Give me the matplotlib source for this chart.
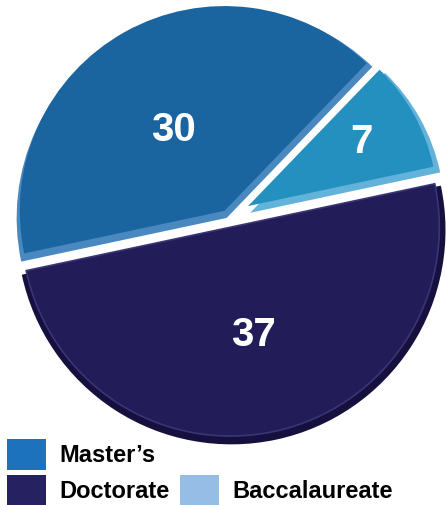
import matplotlib
matplotlib.use("Agg")
from matplotlib import pyplot as plt
from matplotlib.patches import Patch
import numpy as np

# data
labels = ["Doctorate", "Master\u2019s", "Baccalaureate"]
values = [37, 30, 7]
face_colors = ["#221c58", "#1a65a0", "#2390c0"]
rim_colors = ["#15103e", "#4a88c0", "#62b2da"]
legend_colors = ["#262160", "#1c72bd", "#95bde6"]

fig = plt.figure(figsize=(4.46, 5.05), dpi=100)
ax = fig.add_axes([0, 0, 1, 1])

explode = [0.03, 0.033, 0.11]
sizes = [1.02, 1.0, 0.925]
# how far each face sits up-left of its rim (3d bevel look)
face_shift = [(-0.004, 0.014), (-0.01, 0.034), (-0.01, 0.032)]

# bevel / rim layer underneath
rim, _ = ax.pie(values, colors=rim_colors, explode=explode, startangle=12,
                counterclock=False, radius=1.0)
# face layer
faces, _ = ax.pie(values, colors=face_colors, explode=explode, startangle=12,
                  counterclock=False, radius=0.975)
for w, s in zip(rim, sizes):
    w.set_radius(w.r * s)
for w, s, (dx, dy) in zip(faces, sizes, face_shift):
    w.set_radius(w.r * s)
    x0, y0 = w.center
    w.set_center((x0 + dx, y0 + dy))

# lighter bevel along the edges of the Doctorate slice
faces[0].set_edgecolor("#3a3577")
faces[0].set_linewidth(1.2)

# value labels
label_dist = [0.54, 0.52, 0.74]
label_turn = [0, 2, 3]  # small angular nudge, degrees
for w, v, d, t in zip(faces, values, label_dist, label_turn):
    mid = np.deg2rad((w.theta1 + w.theta2) / 2 + t)
    ax.text(d * np.cos(mid), d * np.sin(mid), str(v), color="white",
            fontsize=29, fontweight="bold", family="Liberation Sans",
            ha="center", va="center")

scale = 210
cx, cy = 230, 224
ax.set_xlim(-cx / scale, (446 - cx) / scale)
ax.set_ylim(-(505 - cy) / scale, cy / scale)
ax.axis("off")

# legend: Master's, Doctorate in first column, Baccalaureate bottom of second
order = [1, 0, None, 2]
handles = []
for i in order:
    if i is None:
        handles.append(Patch(facecolor="none", edgecolor="none", label=" "))
    else:
        handles.append(Patch(facecolor=legend_colors[i], label=labels[i]))
fig.legend(handles=handles, loc="lower left", bbox_to_anchor=(7 / 446, 0),
           ncol=2, frameon=False,
           prop={"family": "Liberation Sans", "weight": "bold", "size": 17},
           handlelength=1.65, handleheight=1.6, handletextpad=0.55,
           columnspacing=0.47, labelspacing=0.21, borderpad=0, borderaxespad=0)

plt.savefig("out.png", dpi=100)
